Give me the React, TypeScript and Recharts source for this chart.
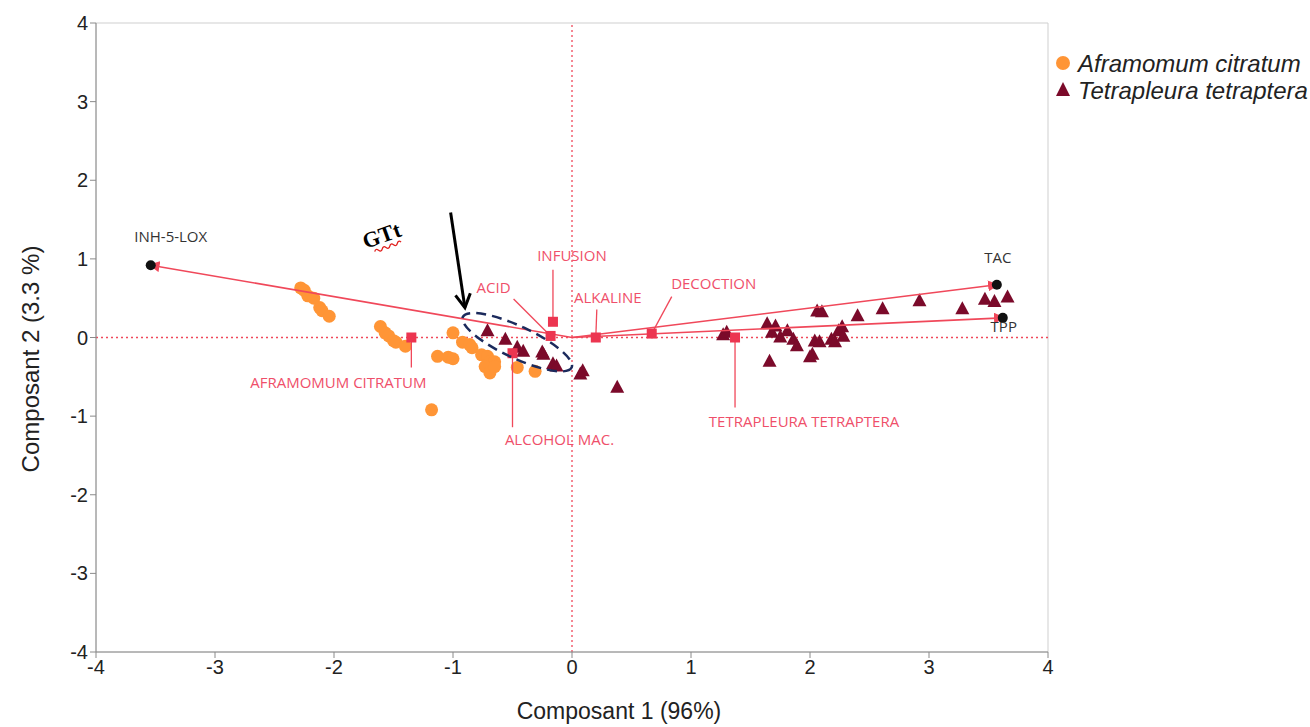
import {
  ScatterChart,
  Scatter,
  XAxis,
  YAxis,
  ReferenceLine,
  ReferenceArea,
} from 'recharts';

// individus (scores PCA)
const aframomumPoints: [number, number][] = [
  [-2.28, 0.63], [-2.25, 0.6], [-2.22, 0.53], [-2.17, 0.5], [-2.12, 0.38], [-2.1, 0.34], [-2.04, 0.27],
  [-1.61, 0.14], [-1.57, 0.06], [-1.54, 0.02], [-1.5, -0.04], [-1.48, -0.06], [-1.4, -0.11],
  [-1.0, 0.06], [-0.92, -0.06], [-0.86, -0.09], [-0.84, -0.13],
  [-1.13, -0.24], [-1.04, -0.25], [-1.0, -0.27],
  [-0.76, -0.22], [-0.71, -0.24], [-0.69, -0.31], [-0.65, -0.31], [-0.73, -0.37], [-0.69, -0.45], [-0.65, -0.37],
  [-0.46, -0.38], [-0.31, -0.43], [-1.18, -0.92],
];

const tetrapleuraPoints: [number, number][] = [
  [-0.71, 0.08], [-0.56, -0.03], [-0.46, -0.13], [-0.41, -0.18], [-0.25, -0.19], [-0.24, -0.22],
  [-0.16, -0.34], [-0.13, -0.37], [0.07, -0.47], [0.09, -0.43], [0.38, -0.64],
  [1.27, 0.03], [1.3, 0.06], [1.64, 0.17], [1.71, 0.14], [1.68, 0.06], [1.75, 0.0], [1.81, 0.08],
  [1.86, -0.03], [1.89, -0.11], [1.66, -0.31], [2.04, -0.05], [2.08, -0.06], [2.02, -0.22], [2.0, -0.25],
  [2.18, -0.03], [2.21, -0.06], [2.24, 0.08], [2.27, 0.13], [2.28, 0.01], [2.06, 0.33], [2.1, 0.32],
  [2.4, 0.27], [2.61, 0.36], [2.92, 0.46], [3.28, 0.36], [3.47, 0.48], [3.55, 0.45], [3.66, 0.51],
];

// variables actives (vecteurs)
const variableNames = ['INH-5-LOX', 'TAC', 'TPP'];
const variableCoords: [number, number][] = [[-3.54, 0.92], [3.57, 0.67], [3.62, 0.25]];

// modalités supplémentaires
const supplNames = ['AFRAMOMUM CITRATUM', 'ALCOHOL MAC.', 'ACID', 'INFUSION', 'ALKALINE', 'DECOCTION', 'TETRAPLEURA TETRAPTERA'];
const supplCoords: [number, number][] = [[-1.35, 0.0], [-0.5, -0.2], [-0.18, 0.02], [-0.16, 0.2], [0.2, 0.0], [0.67, 0.05], [1.37, 0.0]];

// annotations
const highlightCenter = { x: -0.46, y: -0.06 };
const arrowPath = [{ x: -1.02, y: 1.59 }, { x: -0.9, y: 0.38 }];
const gttPos = { x: -1.6, y: 1.3 };

const axisTicks = [-4, -3, -2, -1, 0, 1, 2, 3, 4];

// pixel offsets for labels (leader end, text centre)
const supplLabelOffsets: Record<string, { lx: number; ly: number; tx: number; ty: number }> = {
  'AFRAMOMUM CITRATUM': { lx: 0, ly: 30, tx: -73, ty: 44 },
  'ALCOHOL MAC.': { lx: 0, ly: 74, tx: 47, ty: 86 },
  ACID: { lx: -37, ly: -37, tx: -57, ty: -49 },
  INFUSION: { lx: 0, ly: -52, tx: 19, ty: -67 },
  ALKALINE: { lx: 1, ly: -28, tx: 12, ty: -41 },
  DECOCTION: { lx: 20, ly: -37, tx: 62, ty: -51 },
  'TETRAPLEURA TETRAPTERA': { lx: 0, ly: 70, tx: 69, ty: 83 },
};
const varLabelOffsets: Record<string, [number, number]> = {
  'INH-5-LOX': [20, -29],
  TAC: [1, -28],
  TPP: [1, 8],
};

const ORANGE = '#FF9536';
const DARKRED = '#7B0A2A';
const LINE_RED = '#F0485A';
const LABEL_RED = '#EF4F6A';
const LABEL_FONT = '"Open Sans", "Noto Sans", sans-serif';
const AXIS_FONT = '"Liberation Sans", Arial, sans-serif';

const toPts = (arr: [number, number][]) => arr.map(([x, y]) => ({ x, y }));
const aframomumData = toPts(aframomumPoints);
const tetrapleuraData = toPts(tetrapleuraPoints);
const supplData = supplCoords.map(([x, y], i) => ({ x, y, name: supplNames[i] }));
const vectorData = variableCoords.map(([x, y], i) => [
  { x: 0, y: 0, name: '' },
  { x, y, name: variableNames[i] },
]);

const Circle = (p: any) => <circle cx={p.cx} cy={p.cy} r={6.5} fill={ORANGE} />;
const Triangle = (p: any) => (
  <path d={`M${p.cx},${p.cy - 8} L${p.cx + 7},${p.cy + 5} L${p.cx - 7},${p.cy + 5} Z`} fill={DARKRED} />
);

const SupplShape = (p: any) => {
  const o = supplLabelOffsets[p.payload.name];
  return (
    <g>
      <line x1={p.cx} y1={p.cy} x2={p.cx + o.lx} y2={p.cy + o.ly} stroke={LINE_RED} strokeWidth={1.3} />
      <rect x={p.cx - 5} y={p.cy - 5} width={10} height={10} fill="#EC3550" />
      <text x={p.cx + o.tx} y={p.cy + o.ty} textAnchor="middle" dominantBaseline="central"
        fontSize={15} fontFamily={LABEL_FONT} fill={LABEL_RED}>
        {p.payload.name}
      </text>
    </g>
  );
};

const VectorEnd = (p: any) => {
  if (!p.payload.name) return <g />;
  const o = varLabelOffsets[p.payload.name];
  return (
    <g>
      <circle cx={p.cx} cy={p.cy} r={5} fill="#111" />
      <text x={p.cx + o[0]} y={p.cy + o[1]} textAnchor="middle" dominantBaseline="central"
        fontSize={15} fontFamily={LABEL_FONT} fill="#333">
        {p.payload.name}
      </text>
    </g>
  );
};

const Ellipse = (p: any) => (
  <ellipse cx={p.cx} cy={p.cy} rx={60} ry={16} transform={`rotate(25 ${p.cx} ${p.cy})`}
    fill="none" stroke="#1B2A5C" strokeWidth={2.5} strokeDasharray="10 6" />
);

const GttShape = (p: any) => (
  <g transform={`rotate(-20 ${p.cx} ${p.cy})`}>
    <text x={p.cx} y={p.cy} textAnchor="middle" dominantBaseline="central" fontSize={22}
      fontWeight="bold" fontFamily='"Liberation Serif", "Times New Roman", serif' fill="#000">GTt</text>
    <path d={`M${p.cx - 12},${p.cy + 13} q2,-3 4,0 t4,0 t4,0 t4,0 t4,0 t4,0 t4,0`} fill="none" stroke="#E0201E" strokeWidth={1.3} />
  </g>
);

const Nothing = () => <g />;

export default function App() {
  return (
    <div style={{ position: 'absolute', left: 0, top: 0, background: '#fff' }}>
      <ScatterChart width={1310} height={727} margin={{ top: 23, right: 262, bottom: 35, left: 36 }}>
        <defs>
          <marker id="vecArrow" viewBox="0 0 10 10" refX="8" refY="5" markerWidth="11" markerHeight="11"
            markerUnits="userSpaceOnUse" orient="auto">
            <path d="M0,0 L10,5 L0,10 z" fill={LINE_RED} />
          </marker>
          <marker id="blackArrow" viewBox="0 0 12 12" refX="10" refY="6" markerWidth="18" markerHeight="18"
            markerUnits="userSpaceOnUse" orient="auto">
            <path d="M1,1 L10,6 L1,11" fill="none" stroke="#000" strokeWidth={2} />
          </marker>
        </defs>
        <ReferenceArea x1={-4} x2={4} y1={-4} y2={4} fill="none" stroke="#cfcfcf" strokeWidth={1} ifOverflow="visible" />
        <XAxis type="number" dataKey="x" domain={[-4, 4]} ticks={axisTicks} allowDataOverflow
          height={40} stroke="#8a8a8a" tickSize={6}
          tick={{ fontSize: 20, fill: '#222', fontFamily: AXIS_FONT }} />
        <YAxis type="number" dataKey="y" domain={[-4, 4]} ticks={axisTicks} allowDataOverflow
          width={60} stroke="#8a8a8a" tickSize={6}
          tick={{ fontSize: 20, fill: '#222', fontFamily: AXIS_FONT }} />
        <ReferenceLine x={0} stroke={LINE_RED} strokeDasharray="2 3" strokeWidth={1.3} />
        <ReferenceLine y={0} stroke={LINE_RED} strokeDasharray="2 3" strokeWidth={1.3} />

        <Scatter data={aframomumData} shape={Circle} isAnimationActive={false} />
        <Scatter data={tetrapleuraData} shape={Triangle} isAnimationActive={false} />

        {vectorData.map((d, i) => (
          <Scatter key={i} data={d} shape={VectorEnd} isAnimationActive={false}
            line={{ stroke: LINE_RED, strokeWidth: 1.6, markerEnd: 'url(#vecArrow)' }} />
        ))}

        <Scatter data={supplData} shape={SupplShape} isAnimationActive={false} />
        <Scatter data={[highlightCenter]} shape={Ellipse} isAnimationActive={false} />
        <Scatter data={arrowPath} shape={Nothing} isAnimationActive={false}
          line={{ stroke: '#000', strokeWidth: 3, markerEnd: 'url(#blackArrow)' }} />
        <Scatter data={[gttPos]} shape={GttShape} isAnimationActive={false} />

        <text x={619} y={711} textAnchor="middle" dominantBaseline="central" fontSize={23}
          fontFamily={AXIS_FONT} fill="#222">Composant 1 (96%)</text>
        <text transform="translate(30,359) rotate(-90)" textAnchor="middle" dominantBaseline="central"
          fontSize={24} fontFamily={AXIS_FONT} fill="#222">Composant 2 (3.3 %)</text>

        <g>
          <circle cx={1063} cy={63} r={7} fill={ORANGE} />
          <text x={1078} y={63} dominantBaseline="central" fontSize={24} fontStyle="italic"
            fontFamily={AXIS_FONT} fill="#222">Aframomum citratum</text>
          <path d="M1063,82 L1070,96 L1056,96 Z" fill={DARKRED} />
          <text x={1078} y={90} dominantBaseline="central" fontSize={24} fontStyle="italic"
            fontFamily={AXIS_FONT} fill="#222">Tetrapleura tetraptera</text>
        </g>
      </ScatterChart>
    </div>
  );
}
